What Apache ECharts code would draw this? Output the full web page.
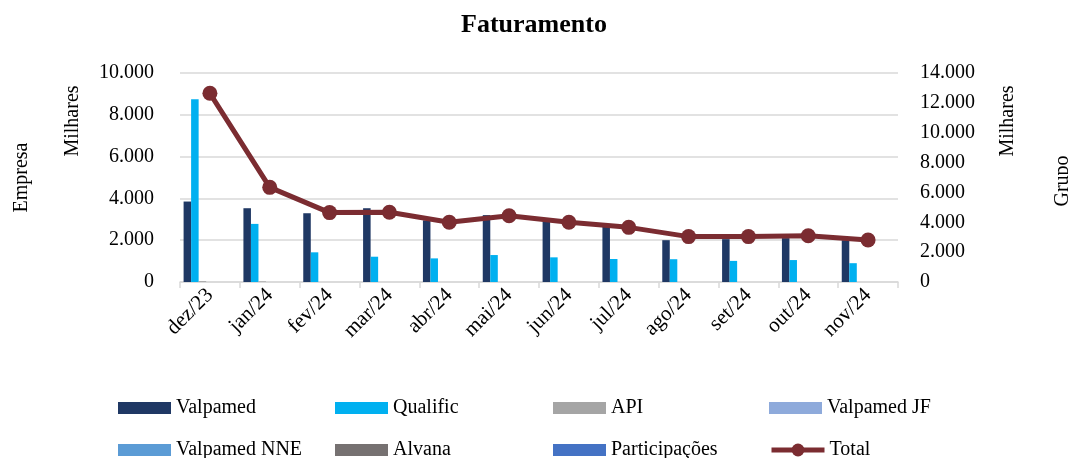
<!DOCTYPE html>
<html>
<head>
<meta charset="utf-8">
<script src="https://cdn.jsdelivr.net/npm/echarts@6/dist/echarts.min.js"></script>
<style>html,body{margin:0;padding:0;background:#fff;}#c{width:1068px;height:458px;}</style>
</head>
<body>
<div id="c"></div>
<script>
const categories = ['dez/23','jan/24','fev/24','mar/24','abr/24','mai/24','jun/24','jul/24','ago/24','set/24','out/24','nov/24'];
const valpamed = [3850, 3530, 3290, 3530, 2950, 3200, 2900, 2650, 2000, 2050, 2100, 2000];
const qualific = [8750, 2780, 1420, 1210, 1130, 1290, 1180, 1100, 1090, 1010, 1050, 900];
const api = [40, 30, 0, 0, 0, 0, 0, 0, 0, 0, 0, 0];
const valpamedJF = [0, 0, 0, 0, 0, 0, 0, 0, 0, 0, 0, 0];
const valpamedNNE = [0, 0, 0, 0, 0, 0, 0, 0, 0, 0, 0, 0];
const alvana = [0, 0, 0, 0, 0, 0, 0, 0, 0, 0, 0, 0];
const participacoes = [0, 0, 0, 0, 0, 0, 0, 0, 0, 0, 0, 0];
const total = [12640, 6340, 4650, 4670, 4000, 4440, 4000, 3660, 3040, 3040, 3100, 2810];

const FONT = '"Liberation Serif", "DejaVu Serif", serif';
const fmt = v => String(v).replace(/\B(?=(\d{3})+(?!\d))/g, '.');

const chart = echarts.init(document.getElementById('c'), null, {renderer: 'canvas'});

const barNames = ['Valpamed','Qualific','API','Valpamed JF','Valpamed NNE','Alvana','Participações'];
const barData = [valpamed, qualific, api, valpamedJF, valpamedNNE, alvana, participacoes];
const barColors = ['#1f3864','#00b0f0','#a5a5a5','#8eaadb','#5b9bd5','#767171','#4472c4'];

const series = barNames.map((n, i) => ({
  name: n, type: 'bar', yAxisIndex: 0, data: barData[i],
  itemStyle: {color: barColors[i]},
  barGap: '0%', barCategoryGap: '12%',
  emphasis: {disabled: true}
}));
series.push({
  name: 'Total', type: 'line', yAxisIndex: 1, data: total,
  symbol: 'circle', symbolSize: 15,
  lineStyle: {color: '#7b2c31', width: 5},
  itemStyle: {color: '#7b2c31'},
  z: 5
});

const legendNames = ['Valpamed','Qualific','API','Valpamed JF','Valpamed NNE','Alvana','Participações','Total'];
const colX = [113, 330, 548, 764];
const rowY = [393, 435];
const legends = legendNames.map((n, i) => ({
  orient: 'horizontal', left: colX[i % 4], top: rowY[Math.floor(i / 4)],
  itemWidth: 53, itemHeight: n === 'Total' ? 16 : 12, itemGap: 0,
  selectedMode: false,
  textStyle: {fontFamily: FONT, fontSize: 20, color: '#000'},
  data: [n === 'Total' ? {name: n, lineStyle: {width: 5, color: '#7b2c31'}} : {name: n, icon: 'rect'}]
}));

chart.setOption({
  animation: false,
  title: {
    text: 'Faturamento', left: 'center', top: 7,
    textStyle: {fontFamily: FONT, fontSize: 26, fontWeight: 'bold', color: '#000'}
  },
  grid: {left: 180, right: 170, top: 73, bottom: 176, containLabel: false, outerBoundsMode: 'none'},
  legend: legends,
  xAxis: {
    type: 'category', data: categories,
    axisLine: {show: true, lineStyle: {color: '#d9d9d9', width: 1.5}},
    axisTick: {show: true, length: 6, lineStyle: {color: '#d9d9d9', width: 1.5}},
    axisLabel: {rotate: 45, fontFamily: FONT, fontSize: 21, color: '#000', margin: 10}
  },
  yAxis: [
    {
      type: 'value', min: 0, max: 10000, interval: 2000,
      name: 'Empresa', nameLocation: 'middle', nameGap: 148, nameRotate: 90,
      nameTextStyle: {fontFamily: FONT, fontSize: 20, color: '#000'},
      axisLine: {show: false}, axisTick: {show: false},
      splitLine: {show: true, lineStyle: {color: '#d9d9d9', width: 1.5}},
      axisLabel: {fontFamily: FONT, fontSize: 20, color: '#000', margin: 26, formatter: fmt}
    },
    {
      type: 'value', min: 0, max: 14000, interval: 2000, position: 'right',
      axisLine: {show: false}, axisTick: {show: false},
      splitLine: {show: false},
      axisLabel: {fontFamily: FONT, fontSize: 20, color: '#000', margin: 22, formatter: fmt}
    }
  ],
  graphic: [
    {type: 'text', x: 73, y: 121, rotation: Math.PI / 2,
     style: {text: 'Milhares', fontFamily: FONT, fontSize: 20, fill: '#000', textAlign: 'center', textVerticalAlign: 'middle'}},
    {type: 'text', x: 1008, y: 121, rotation: Math.PI / 2,
     style: {text: 'Milhares', fontFamily: FONT, fontSize: 20, fill: '#000', textAlign: 'center', textVerticalAlign: 'middle'}},
    {type: 'text', x: 1063, y: 181, rotation: Math.PI / 2,
     style: {text: 'Grupo', fontFamily: FONT, fontSize: 20, fill: '#000', textAlign: 'center', textVerticalAlign: 'middle'}}
  ],
  series: series
});
</script>
</body>
</html>
